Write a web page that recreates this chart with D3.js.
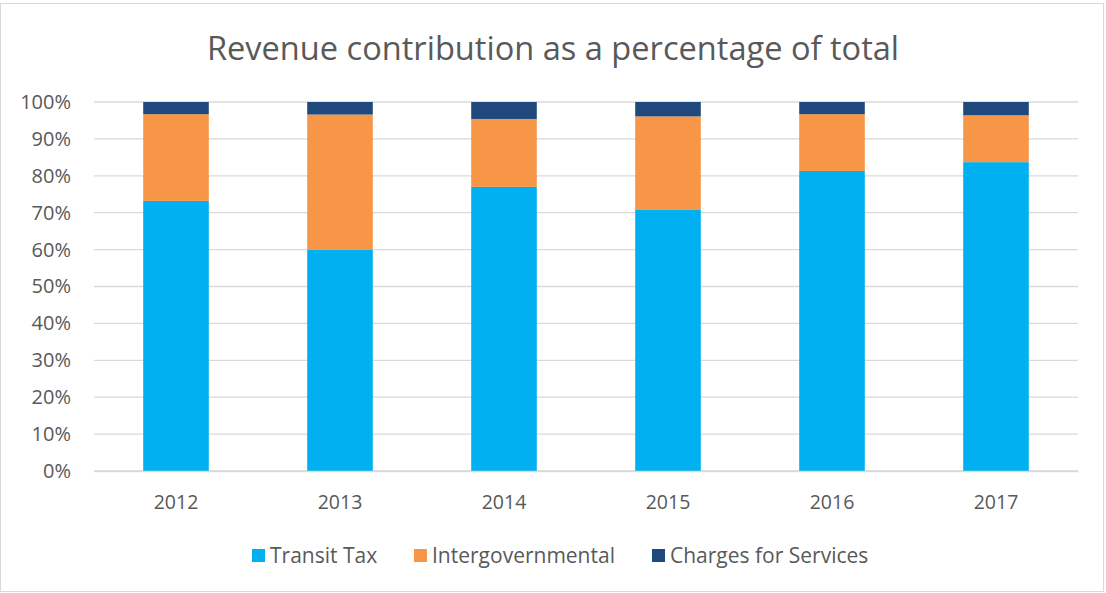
<!DOCTYPE html>
<html>
<head>
<meta charset="utf-8">
<script src="https://cdn.jsdelivr.net/npm/d3@7"></script>
<style>
  body { margin: 0; background: #fff; }
  svg { display: block; font-family: "Open Sans", sans-serif; }
</style>
</head>
<body>
<div id="chart"></div>
<script>
"use strict";

// data (share of total, %)
const years = ["2012", "2013", "2014", "2015", "2016", "2017"];
const seriesNames = ["Transit Tax", "Intergovernmental", "Charges for Services"];
const transitTax = [73.2, 60.0, 77.0, 70.9, 81.3, 83.7];
const intergovernmental = [23.5, 36.6, 18.4, 25.2, 15.4, 12.7];
const chargesForServices = [3.3, 3.4, 4.6, 3.9, 3.3, 3.6];
const yTicks = [0, 10, 20, 30, 40, 50, 60, 70, 80, 90, 100];
const colours = ["#00b0f0", "#f79646", "#1f497d"];

const W = 1106, H = 593;
const margin = { top: 102, right: 28, bottom: 122, left: 94 };

const rows = years.map((y, i) => ({
  year: y,
  "Transit Tax": transitTax[i],
  "Intergovernmental": intergovernmental[i],
  "Charges for Services": chargesForServices[i],
}));

const stack = d3.stack().keys(seriesNames)(rows);

const svg = d3.select("#chart").append("svg")
  .attr("width", W).attr("height", H);

// outer frame
svg.append("rect")
  .attr("x", 0.5).attr("y", 3.5)
  .attr("width", W - 3).attr("height", H - 5)
  .attr("fill", "#fff").attr("stroke", "#d9d9d9");

const x = d3.scaleBand()
  .domain(years)
  .range([margin.left, W - margin.right])
  .paddingInner(0.6).paddingOuter(0.3);

const y = d3.scaleLinear()
  .domain([0, 100])
  .range([H - margin.bottom, margin.top]);

// gridlines
svg.append("g")
  .selectAll("line")
  .data(yTicks)
  .join("line")
  .attr("x1", margin.left).attr("x2", W - margin.right)
  .attr("y1", d => y(d)).attr("y2", d => y(d))
  .attr("stroke", "#d9d9d9").attr("stroke-width", 1.3);

// y axis labels
const yAxis = svg.append("g")
  .attr("transform", `translate(${margin.left - 23},0)`)
  .call(d3.axisLeft(y).tickValues(yTicks).tickFormat(d => d + "%").tickSize(0).tickPadding(0));
yAxis.select(".domain").remove();
yAxis.selectAll("text")
  .attr("fill", "#595959").style("font-size", "20px").style("font-family", "'Open Sans', sans-serif");

// bars
svg.append("g")
  .selectAll("g")
  .data(stack)
  .join("g")
  .attr("fill", (d, i) => colours[i])
  .selectAll("rect")
  .data(d => d)
  .join("rect")
  .attr("x", d => x(d.data.year))
  .attr("width", x.bandwidth())
  .attr("y", d => y(d[1]))
  .attr("height", d => y(d[0]) - y(d[1]));

// x axis
const xAxis = svg.append("g")
  .attr("transform", `translate(0,${H - margin.bottom})`)
  .call(d3.axisBottom(x).tickSize(0).tickPadding(24));
xAxis.select(".domain")
  .attr("stroke", "#d9d9d9").attr("stroke-width", 1.3);
xAxis.selectAll("text")
  .attr("fill", "#595959").style("font-size", "19.5px").style("font-family", "'Open Sans', sans-serif");

// title
svg.append("text")
  .attr("x", 553).attr("y", 60)
  .attr("text-anchor", "middle")
  .attr("fill", "#595959")
  .style("font-size", "32.6px")
  .text("Revenue contribution as a percentage of total");

// legend
const legendX = [252, 414, 652];
const legend = svg.append("g")
  .selectAll("g")
  .data(seriesNames)
  .join("g")
  .attr("transform", (d, i) => `translate(${legendX[i]},549)`);
legend.append("rect")
  .attr("width", 13).attr("height", 13)
  .attr("fill", (d, i) => colours[i]);
legend.append("text")
  .attr("x", 18).attr("y", 14)
  .attr("fill", "#595959")
  .style("font-size", "21px")
  .text(d => d);
</script>
</body>
</html>
